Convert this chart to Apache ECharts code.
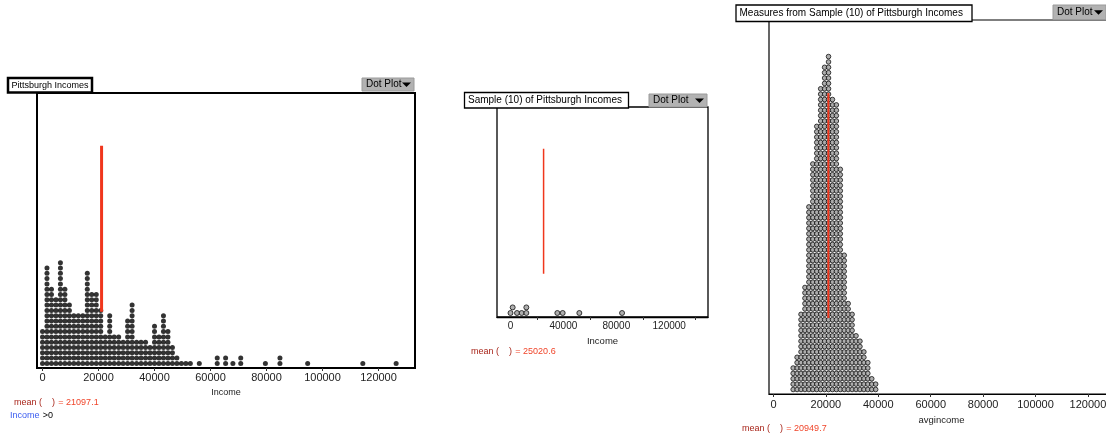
<!DOCTYPE html>
<html><head><meta charset="utf-8">
<script src="https://cdn.jsdelivr.net/npm/echarts@6/dist/echarts.min.js"></script>
<style>html,body{margin:0;padding:0;background:#fff}#c{width:1106px;height:435px}</style>
</head><body><div id="c"></div>
<script>
// ---------- DATA ----------
// Population (Pittsburgh Incomes): dot-plot columns (income) and dots per column
const popIncomeBins = [0,1600,3200,4800,6400,8000,9600,11200,12800,14400,16000,17600,19200,20800,22400,24000,25600,27200,28800,30400,32000,33600,35200,36800,38400,40000,41600,43200,44800,46400,48000,49600,51200,52800,56000,62400,65400,68000,70800,79600,84800,94700,114400,126300];
const popCounts     = [7,19,15,13,20,15,12,10,10,10,18,14,14,11,6,10,6,6,5,9,12,5,5,5,4,8,6,10,7,4,2,1,1,1,1,2,2,1,2,1,2,1,1,1];
const popMean = 21097.1;
const popTicks = [0,20000,40000,60000,80000,100000,120000];

// Sample (10) of Pittsburgh Incomes
const sampleIncomes = [0,1640,4915,8445,11970,11970,35410,39450,52050,84356];
const sampleMean = 25020.6;
const sampleLabels = [0,40000,80000,120000];
const sampleTicks = [20000,60000,100000,140000];

// Measures from Sample (10): avgincome columns and dots per column
const avgIncomeBins = [7500,9000,10500,12000,13500,15000,16500,18000,19500,21000,22500,24000,25500,27000,28500,30000,31500,33000,34500,36000,37500,39000];
const avgCounts     = [5,7,15,20,35,43,50,57,61,63,55,54,42,26,17,15,11,10,8,6,3,2];
const avgMean = 20949.7;
const avgTicks = [0,20000,40000,60000,80000,100000,120000];

// vertical extent of the mean markers, in dot rows
const popMeanRows = [10.75, 42.07];
const sampleMeanRows = [8.02, 30.34];
const avgMeanRows = [14.3, 56.2];

// ---------- HELPERS ----------
function columnDots(bins, counts){
  const out=[];
  bins.forEach((v,i)=>{ for(let r=1;r<=counts[i];r++) out.push([v,r]); });
  return out;
}
function greedyDots(values, minGap){
  const rows=[], out=[];
  values.slice().sort((a,b)=>a-b).forEach(v=>{
    let r=0;
    while(rows[r] && rows[r].some(u=>Math.abs(u-v)<minGap)) r++;
    (rows[r]=rows[r]||[]).push(v);
    out.push([v,r+1]);
  });
  return out;
}
function xRange(left, width, zeroPx, pxPer20k){
  const u = 20000/pxPer20k;
  return {min:(left-zeroPx)*u, max:(left+width-zeroPx)*u};
}
function yRange(height, rowPx, gapPx){
  const min = 1 - gapPx/rowPx;
  return {min:min, max:min+height/rowPx};
}

const FONT = 'Liberation Sans';
const G = [
  {left:37, top:93, width:378, height:275},
  {left:497, top:107, width:211, height:210},
  {left:769, top:20, width:345, height:374}
];
const X0 = xRange(G[0].left, G[0].width, 42.5, 56);
const X1 = xRange(G[1].left, G[1].width, 510.5, 26.45);
const X2 = xRange(G[2].left, G[2].width, 773.5, 52.4);
const Y0 = yRange(G[0].height, 5.3, 4.6);
const Y1 = yRange(G[1].height, 5.6, 4.0);
const Y2 = yRange(G[2].height, 5.37, 4.5);

function xAxisCfg(idx, R, labels, ticks, fontSize, margin, nameGap, name, nameSize, lineW){
  return {
    gridIndex: idx, type:'value', min:R.min, max:R.max,
    name:name, nameLocation:'middle', nameGap:nameGap,
    nameTextStyle:{fontFamily:FONT, fontSize:nameSize, color:'#222'},
    axisLine:{show:true, lineStyle:{color:'#000', width:lineW}},
    axisTick:{show:true, customValues:ticks, length:3, lineStyle:{color:'#333'}},
    axisLabel:{show:true, customValues:labels, margin:margin, fontFamily:FONT, fontSize:fontSize, color:'#222',
               formatter:function(v){ return String(Math.round(v)); }},
    splitLine:{show:false}
  };
}
function yAxisCfg(idx, R){
  return {gridIndex:idx, type:'value', min:R.min, max:R.max, show:false, splitLine:{show:false}};
}

const ringStyle = {color:'#9a9a9a', borderColor:'#111', borderWidth:1};
const RED = '#f0361c';

const chart = echarts.init(document.getElementById('c'), null, {renderer:'canvas'});

function titleBox(x,y,w,h,lw,text,fs){
  return [
    {type:'rect', shape:{x:x,y:y,width:w,height:h}, style:{fill:'#fff', stroke:'#000', lineWidth:lw}, z:10},
    {type:'text', x:x+3.5, y:y+h/2, style:{text:text, fontFamily:FONT, fontSize:fs, fill:'#000', verticalAlign:'middle'}, z:11}
  ];
}
function dotButton(x,y,w,h){
  const tx = x+w-12;
  return [
    {type:'rect', shape:{x:x,y:y,width:w,height:h}, style:{fill:'#b2b2b2', stroke:'#9a9a9a', lineWidth:1}, z:10},
    {type:'text', x:x+4, y:y+h/2, style:{text:'Dot Plot', fontFamily:FONT, fontSize:10, fill:'#000', verticalAlign:'middle'}, z:11},
    {type:'polygon', shape:{points:[[tx,y+h/2-2],[tx+9,y+h/2-2],[tx+4.5,y+h/2+2.5]]}, style:{fill:'#000'}, z:11}
  ];
}
function meanText(x,y,val){
  return {type:'text', x:x, y:y, z:11, style:{
    text:'{a|mean (    )} {b|= '+val+'}', verticalAlign:'middle',
    rich:{a:{fontFamily:FONT, fontSize:9, fill:'#a8251a'}, b:{fontFamily:FONT, fontSize:9, fill:'#f0452a'}}
  }};
}

const graphics = [].concat(
  titleBox(8,78,84,14.5,2.5,'Pittsburgh Incomes',9),
  dotButton(362,78,52,13),
  titleBox(464.5,92.5,164,15.5,1.3,'Sample (10) of Pittsburgh Incomes',10),
  dotButton(649,94,58,13),
  titleBox(736,5,236,16.5,1.3,'Measures from Sample (10) of Pittsburgh Incomes',10),
  dotButton(1053,5,53,14.5),
  [meanText(14,402.5,popMean.toFixed(1)),
   meanText(471,351.7,sampleMean.toFixed(1)),
   meanText(742,428.5,avgMean.toFixed(1)),
   {type:'text', x:10, y:416, z:11, style:{text:'{a|Income} {b|>0}', verticalAlign:'middle',
     rich:{a:{fontFamily:FONT,fontSize:9,fill:'#3a5cf0'}, b:{fontFamily:FONT,fontSize:9,fill:'#000'}}}}]
);

chart.setOption({
  animation:false,
  backgroundColor:'#fff',
  grid: G.map((g,i)=>Object.assign({show:true, outerBoundsMode:'none', containLabel:false, backgroundColor:'#fff', borderColor:'#000', borderWidth:[2,1.3,1.2][i]}, g)),
  xAxis:[
    xAxisCfg(0, X0, popTicks, popTicks, 11, 4, 18, 'Income', 9, 2),
    xAxisCfg(1, X1, sampleLabels, sampleTicks, 10, 4.5, 19, 'Income', 9.5, 1.3),
    xAxisCfg(2, X2, avgTicks, avgTicks, 11, 5.5, 19.5, 'avgincome', 9.5, 1.2)
  ],
  yAxis:[yAxisCfg(0,Y0), yAxisCfg(1,Y1), yAxisCfg(2,Y2)],
  series:[
    {type:'scatter', xAxisIndex:0, yAxisIndex:0, symbolSize:5, itemStyle:{color:'#000'}, data:columnDots(popIncomeBins, popCounts), silent:true},
    {type:'line', xAxisIndex:0, yAxisIndex:0, symbol:'none', z:5, lineStyle:{color:RED, width:3}, data:[[popMean,popMeanRows[0]],[popMean,popMeanRows[1]]]},
    {type:'scatter', xAxisIndex:1, yAxisIndex:1, symbolSize:5, itemStyle:ringStyle, data:greedyDots(sampleIncomes, 3300), silent:true},
    {type:'line', xAxisIndex:1, yAxisIndex:1, symbol:'none', z:5, lineStyle:{color:RED, width:1.5}, data:[[sampleMean,sampleMeanRows[0]],[sampleMean,sampleMeanRows[1]]]},
    {type:'scatter', xAxisIndex:2, yAxisIndex:2, symbolSize:4.6, itemStyle:ringStyle, data:columnDots(avgIncomeBins, avgCounts), silent:true},
    {type:'line', xAxisIndex:2, yAxisIndex:2, symbol:'none', z:5, lineStyle:{color:RED, width:2}, data:[[avgMean,avgMeanRows[0]],[avgMean,avgMeanRows[1]]]}
  ],
  graphic: graphics
});
</script></body></html>
